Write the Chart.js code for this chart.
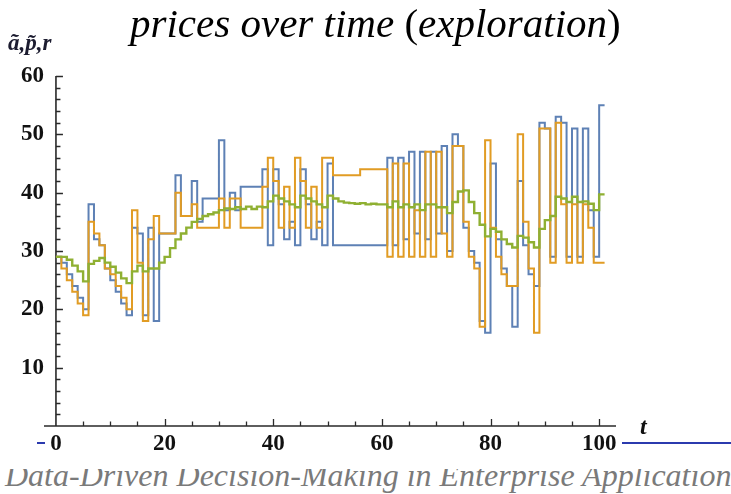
<!DOCTYPE html>
<html>
<head>
<meta charset="utf-8">
<script src="https://cdn.jsdelivr.net/npm/chart.js@4/dist/chart.umd.min.js"></script>
<style>
  html, body { margin: 0; padding: 0; background: #fff; }
  .stage { position: relative; width: 731px; height: 494px; overflow: hidden; }
  .stage canvas { position: absolute; left: 0; top: 0; }
  .title { position: absolute; left: 130px; top: 3px; font: italic 41px/41px "Liberation Serif", "Times New Roman", serif; color: #000; white-space: nowrap; }
  .title .up { font-style: normal; }
  .ylab { position: absolute; left: 8px; top: 31px; font: italic bold 23px/23px "Liberation Serif", serif; color: #1c1c30; white-space: nowrap; }
  .xlab { position: absolute; left: 640px; top: 414px; font: italic bold 24px/24px "Liberation Serif", serif; color: #111; }
  .rule { position: absolute; height: 1.5px; background: #2b3aae; top: 442px; }
  .footer { position: absolute; left: 0; top: 469px; width: 731px; height: 25px; overflow: hidden; }
  .footer span { position: absolute; left: 5px; top: -10px; font: italic 32px/33px "Liberation Serif", serif; color: #7a7a7a; white-space: nowrap; }
</style>
</head>
<body>
<div class="stage">
  <div class="rule" style="left:37px;width:8px"></div>
  <div class="rule" style="left:622px;width:109px"></div>
  <div class="footer"><span>Data-Driven Decision-Making in Enterprise Applications</span></div>
  <canvas id="chart" width="731" height="494"></canvas>
  <div class="title">prices over time <span class="up">(</span>exploration<span class="up">)</span></div>
  <div class="ylab">ã,p̃,r</div>
  <div class="xlab">t</div>
</div>
<script>
// values at t = 0..100, each held until the next t
const blueA = [29,28,26,24,22,20,38,32,31,27,25,23,21,19,34,33,19,34,18,33,
  33,33,43,36,36,42,35,39,39,39,49,37,40,37,41,41,41,41,44,31,
  44,38,32,35,31,44,38,32,35,31,45,31,31,31,31,31,31,31,31,31,
  31,46,31,46,32,47,33,47,32,47,33,48,30,50,48,34,30,28,18,16,
  45,32,27,24,17,42,31,26,24,52,51,29,53,52,29,51,29,51,37,29,55];
const orangeP = [29,27,25,23,21,19,35,33,31,27,26,24,22,20,37,28,18,32,36,33,
  33,33,40,36,36,38,34,34,34,34,39,34,39,39,34,34,34,34,41,46,
  42,34,41,34,46,42,34,41,34,46,46,43,43,43,43,43,44,44,44,44,
  44,29,45,29,45,29,37,29,47,29,47,33,29,48,48,35,29,27,17,49,
  34,29,26,24,24,50,35,27,16,51,51,28,52,38,28,38,28,38,34,28,28];
const greenR = [29,29,28.5,27.5,26.5,24.8,27.8,28.3,28.8,28,27.3,26.3,25.3,24.5,26.5,27.5,26.5,27,27,28,
  29,30.5,32,33,34,35,35.5,36,36.3,36.6,37,37.3,37.2,37.5,37.2,37.6,37.2,37.6,37.5,38.5,
  39.5,39,38.5,38,37.5,39.5,39,38.5,38,37.5,39.5,39,38.5,38.3,38.2,38.1,38.2,38,38.1,38,
  38,37.5,38.5,37.5,38,37.5,38,37,38,38,37.5,37.5,36.5,38.4,40.2,40.4,38.4,36.5,34.5,32.5,
  33.8,33.3,32,31.2,30.6,32.6,32.3,31.5,30.6,33.8,35.3,36,39.3,39,38.4,39.3,38.4,38.5,38.1,37,39.7];

const xTickLabels = [0, 20, 40, 60, 80, 100];
const yTickLabels = [10, 20, 30, 40, 50, 60];
const X_MINOR = 5;
const Y_MINOR = 2;
const X_MIN = -2.2;
const X_MAX = 103.1;

const COLORS = { blue: "#5e81b5", orange: "#e19c24", green: "#8fb032" };

// hold the last value to t = 101
const toSteps = (vals) =>
  vals.map((v, t) => ({ x: t, y: v })).concat({ x: vals.length, y: vals[vals.length - 1] });

// Mathematica style axes: crossing at the origin, ticks pointing inward
const mmaAxes = {
  id: "mmaAxes",
  beforeDatasetsDraw(chart) {
    const { ctx, scales: { x, y } } = chart;
    const x0 = x.getPixelForValue(0);
    const y0 = y.getPixelForValue(0);
    ctx.save();
    ctx.strokeStyle = "#2a2a2a";
    ctx.lineWidth = 1.6;
    ctx.beginPath();
    ctx.moveTo(x.left, y0);
    ctx.lineTo(x.right, y0);
    ctx.moveTo(x0, y.top);
    ctx.lineTo(x0, y0);
    ctx.stroke();
    ctx.lineWidth = 1.3;
    ctx.beginPath();
    for (let v = X_MINOR; v <= xTickLabels[xTickLabels.length - 1]; v += X_MINOR) {
      const px = Math.round(x.getPixelForValue(v)) + 0.5;
      const len = xTickLabels.includes(v) ? 7 : 4.5;
      ctx.moveTo(px, y0);
      ctx.lineTo(px, y0 - len);
    }
    for (let v = Y_MINOR; v <= y.max; v += Y_MINOR) {
      const py = Math.round(y.getPixelForValue(v)) + 0.5;
      const len = yTickLabels.includes(v) ? 7 : 4.5;
      ctx.moveTo(x0, py);
      ctx.lineTo(x0 + len, py);
    }
    ctx.stroke();
    ctx.restore();
  },
};

const line = (data, color, width, order) => ({
  data: toSteps(data),
  borderColor: color,
  borderWidth: width,
  stepped: true,
  pointRadius: 0,
  fill: false,
  order,
});

const tickFont = { family: "Liberation Serif", size: 23, weight: "bold" };

new Chart(document.getElementById("chart"), {
  type: "line",
  data: {
    datasets: [
      line(blueA, COLORS.blue, 2, 3),
      line(orangeP, COLORS.orange, 2, 2),
      line(greenR, COLORS.green, 2.4, 1),
    ],
  },
  options: {
    responsive: false,
    animation: false,
    devicePixelRatio: 1,
    layout: { padding: { left: 44, right: 115, top: 76, bottom: 68 } },
    plugins: { legend: { display: false }, title: { display: false }, tooltip: { enabled: false } },
    scales: {
      x: {
        type: "linear",
        position: { y: 0 },
        min: X_MIN,
        max: X_MAX,
        grid: { display: false },
        border: { display: false },
        ticks: {
          stepSize: 20,
          includeBounds: false,
          padding: -4,
          color: "#111",
          font: tickFont,
          callback: (v) => (xTickLabels.includes(v) ? v : null),
        },
      },
      y: {
        type: "linear",
        // labels end at the left edge, the axis line itself is drawn at t = 0
        position: { x: X_MIN },
        min: 0,
        max: 60,
        grid: { display: false },
        border: { display: false },
        ticks: {
          stepSize: 10,
          color: "#111",
          font: tickFont,
          callback: (v) => (yTickLabels.includes(v) ? v : null),
        },
      },
    },
  },
  plugins: [mmaAxes],
});
</script>
</body>
</html>
